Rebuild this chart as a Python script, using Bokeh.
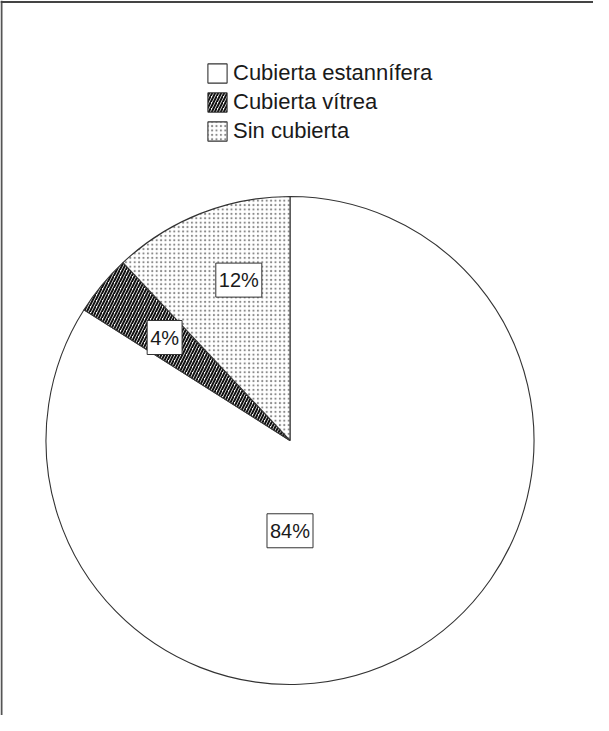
import math
from bokeh.plotting import figure
from bokeh.models import Range1d, Span, Legend, LegendItem, Label, ColumnDataSource
from bokeh.embed import file_html
from bokeh.resources import INLINE

# ---- data ----
categories = ["Cubierta estannífera", "Cubierta vítrea", "Sin cubierta"]
percent = [84, 4, 12]
labels = ["84%", "4%", "12%"]

# ---- styles / layout ----
fills = ["white", "white", "white"]
hatch_patterns = [" ", "/", "."]
hatch_colors = ["black", "#111111", "#8a8a8a"]
hatch_scales = [6, 6, 4.4]
hatch_weights = [1, 2.0, 1.0]
label_r_frac = [0.37, 0.665, 0.69]
label_angle_shift = [-28.8, 0.2, -3.9]

W, H = 593, 715
CX, CY, R = 289.5, 275, 244

p = figure(width=W, height=H, output_backend="svg", toolbar_location=None,
           x_range=Range1d(0, W), y_range=Range1d(0, H), min_border=0,
           outline_line_color=None, background_fill_color="white",
           border_fill_color="white")
p.axis.visible = False
p.grid.visible = False

# frame: top and left lines
p.add_layout(Span(location=1, dimension="height", line_color="#555555", line_width=2))
p.add_layout(Span(location=H - 1.5, dimension="width", line_color="#444444", line_width=2))

total = sum(percent)
cum = 0.0
items = []
for i, (cat, v) in enumerate(zip(categories, percent)):
    a0 = math.pi / 2 - 2 * math.pi * cum / total
    cum += v
    a1 = math.pi / 2 - 2 * math.pi * cum / total
    src = ColumnDataSource(dict(x=[CX], y=[CY], s=[a0], e=[a1]))
    r = p.wedge(x="x", y="y", radius=R, start_angle="s", end_angle="e", direction="clock",
                source=src, fill_color=fills[i], line_color="#333333", line_width=1.1,
                hatch_pattern=hatch_patterns[i], hatch_color=hatch_colors[i],
                hatch_scale=hatch_scales[i], hatch_weight=hatch_weights[i])
    items.append(LegendItem(label=cat, renderers=[r]))
    mid = (a0 + a1) / 2 + math.radians(label_angle_shift[i])
    p.add_layout(Label(x=CX + label_r_frac[i] * R * math.cos(mid),
                       y=CY + label_r_frac[i] * R * math.sin(mid),
                       text=labels[i], text_align="center", text_baseline="middle",
                       text_font="Liberation Sans", text_font_size="20px",
                       text_color="#1a1a1a", background_fill_color="white",
                       border_line_color="#333333", border_line_width=1,
                       padding=(3, 6)))

legend = Legend(items=items, location=(205, 571), orientation="vertical",
                label_text_font="Liberation Sans", label_text_font_size="22px",
                label_text_color="#1a1a1a", glyph_width=24, glyph_height=24,
                label_standoff=4, spacing=3, padding=0, margin=0,
                background_fill_alpha=0, border_line_color=None,
                label_height=24)
p.add_layout(legend)

open("out.html", "w").write(file_html(p, INLINE))
